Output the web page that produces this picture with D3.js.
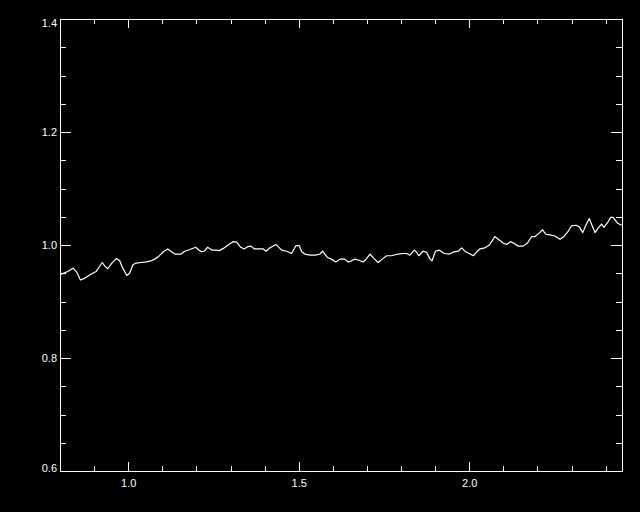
<!DOCTYPE html>
<html>
<head>
<meta charset="utf-8">
<script src="https://cdn.jsdelivr.net/npm/d3@7/dist/d3.min.js"></script>
<style>
  html, body { margin: 0; padding: 0; background: #000; }
  svg { display: block; }
</style>
</head>
<body>
<svg id="chart" width="640" height="512"></svg>
<script>
// Wavelength (x) values
const wavelength = [
  0.802,0.814,0.823,0.838,0.848,0.860,0.872,0.887,0.896,0.906,
  0.916,0.924,0.931,0.940,0.952,0.965,0.975,0.984,0.996,1.004,
  1.014,1.023,1.038,1.053,1.067,1.078,1.088,1.103,1.116,1.127,
  1.137,1.155,1.166,1.181,1.198,1.205,1.215,1.223,1.233,1.245,
  1.254,1.267,1.279,1.293,1.308,1.318,1.330,1.340,1.350,1.360,
  1.370,1.381,1.396,1.404,1.416,1.433,1.450,1.465,1.479,1.492,
  1.501,1.509,1.518,1.533,1.550,1.562,1.570,1.584,1.596,1.609,
  1.621,1.635,1.645,1.655,1.665,1.677,1.689,1.699,1.709,1.721,
  1.733,1.745,1.758,1.772,1.792,1.806,1.816,1.826,1.839,1.846,
  1.852,1.865,1.875,1.885,1.891,1.901,1.911,1.927,1.943,1.955,
  1.968,1.978,1.987,2.000,2.012,2.022,2.031,2.046,2.059,2.069,
  2.075,2.088,2.100,2.110,2.121,2.131,2.144,2.158,2.170,2.183,
  2.193,2.205,2.215,2.225,2.237,2.251,2.266,2.276,2.290,2.300,
  2.313,2.323,2.333,2.342,2.352,2.362,2.369,2.378,2.388,2.395,
  2.405,2.415,2.422,2.434,2.447
];
// Flux (y) values
const flux = [
  0.948,0.951,0.953,0.959,0.953,0.938,0.941,0.947,0.950,0.953,
  0.962,0.969,0.963,0.958,0.968,0.976,0.972,0.959,0.946,0.950,
  0.965,0.968,0.969,0.970,0.972,0.975,0.979,0.988,0.993,0.988,
  0.984,0.984,0.989,0.992,0.996,0.992,0.988,0.989,0.996,0.991,
  0.991,0.990,0.994,1.000,1.006,1.005,0.996,0.993,0.997,0.998,
  0.993,0.993,0.993,0.989,0.995,1.001,0.991,0.989,0.985,0.999,
  0.999,0.988,0.984,0.982,0.982,0.984,0.989,0.978,0.975,0.970,
  0.975,0.975,0.970,0.972,0.975,0.973,0.970,0.976,0.984,0.976,
  0.969,0.975,0.981,0.981,0.984,0.985,0.985,0.982,0.991,0.987,
  0.981,0.989,0.987,0.975,0.972,0.989,0.991,0.985,0.984,0.988,
  0.989,0.995,0.989,0.985,0.981,0.988,0.993,0.995,1.000,1.009,
  1.015,1.009,1.003,1.001,1.006,1.003,0.998,0.998,1.003,1.015,
  1.015,1.021,1.027,1.019,1.018,1.016,1.010,1.014,1.024,1.034,
  1.035,1.032,1.022,1.035,1.047,1.032,1.022,1.030,1.037,1.031,
  1.039,1.049,1.049,1.039,1.035
];
const xMajorTicks = [1.0, 1.5, 2.0];
const xTickLabels = ["1.0", "1.5", "2.0"];
const yMajorTicks = [0.6, 0.8, 1.0, 1.2, 1.4];
const yTickLabels = ["0.6", "0.8", "1.0", "1.2", "1.4"];
const xDomain = [0.8, 2.448];
const yDomain = [0.6, 1.4];

const data = wavelength.map((w, i) => ({ x: w, y: flux[i] }));

const L = 60, R = 622, T = 19, B = 471;
const W = R - L, H = B - T;

const x = d3.scaleLinear().domain(xDomain).range([L, R]);
const y = d3.scaleLinear().domain(yDomain).range([B, T]);

const xMinor = d3.range(8, 25).map(v => v / 10).filter(v => v >= xDomain[0] && v <= xDomain[1] && !xMajorTicks.some(m => Math.abs(m - v) < 1e-9));
const yMinor = d3.range(12, 29).map(v => v / 20).filter(v => !yMajorTicks.some(m => Math.abs(m - v) < 1e-9));

const svg = d3.select("#chart");
svg.append("rect").attr("width", 640).attr("height", 512).attr("fill", "#000");

const font = "'Liberation Sans', Arial, sans-serif";
const majX = 0.02 * H, minX = 0.01 * H;  // vertical ticks on x axes
const majY = 0.02 * W, minY = 0.01 * W;  // horizontal ticks on y axes

function styleAxis(g) {
  g.select(".domain").remove();
  g.selectAll(".tick line").attr("stroke", "#fff").attr("shape-rendering", "crispEdges");
  g.selectAll(".tick text").attr("fill", "#fff").attr("font-family", font).attr("font-size", 11);
}

// bottom
svg.append("g").attr("transform", `translate(0,${B})`)
  .call(d3.axisBottom(x).tickValues(xMajorTicks).tickSize(-majX).tickPadding(8)
    .tickFormat((d, i) => xTickLabels[i]))
  .call(styleAxis)
  .call(g => g.selectAll(".tick text").attr("y", 8));
svg.append("g").attr("transform", `translate(0,${B})`)
  .call(d3.axisBottom(x).tickValues(xMinor).tickSize(-minX).tickFormat(""))
  .call(styleAxis);
// top
svg.append("g").attr("transform", `translate(0,${T})`)
  .call(d3.axisTop(x).tickValues(xMajorTicks).tickSize(-majX).tickFormat(""))
  .call(styleAxis);
svg.append("g").attr("transform", `translate(0,${T})`)
  .call(d3.axisTop(x).tickValues(xMinor).tickSize(-minX).tickFormat(""))
  .call(styleAxis);
// left
svg.append("g").attr("transform", `translate(${L},0)`)
  .call(d3.axisLeft(y).tickValues(yMajorTicks).tickSize(-majY).tickPadding(3)
    .tickFormat((d, i) => yTickLabels[i]))
  .call(styleAxis)
  .call(g => g.selectAll(".tick text").attr("x", -3)
    .attr("dy", (d, i) => i === 0 ? "0em" : (i === yMajorTicks.length - 1 ? "0.72em" : "0.36em")));
svg.append("g").attr("transform", `translate(${L},0)`)
  .call(d3.axisLeft(y).tickValues(yMinor).tickSize(-minY).tickFormat(""))
  .call(styleAxis);
// right
svg.append("g").attr("transform", `translate(${R},0)`)
  .call(d3.axisRight(y).tickValues(yMajorTicks).tickSize(-majY).tickFormat(""))
  .call(styleAxis);
svg.append("g").attr("transform", `translate(${R},0)`)
  .call(d3.axisRight(y).tickValues(yMinor).tickSize(-minY).tickFormat(""))
  .call(styleAxis);

// frame
svg.append("rect")
  .attr("x", L).attr("y", T).attr("width", W).attr("height", H)
  .attr("fill", "none").attr("stroke", "#fff").attr("stroke-width", 1)
  .attr("shape-rendering", "crispEdges");

// data line
const line = d3.line().x(d => x(d.x)).y(d => y(d.y));
svg.append("path").datum(data)
  .attr("d", line)
  .attr("fill", "none")
  .attr("stroke", "#fff")
  .attr("stroke-width", 1.2)
  .attr("stroke-linejoin", "round");
</script>
</body>
</html>
